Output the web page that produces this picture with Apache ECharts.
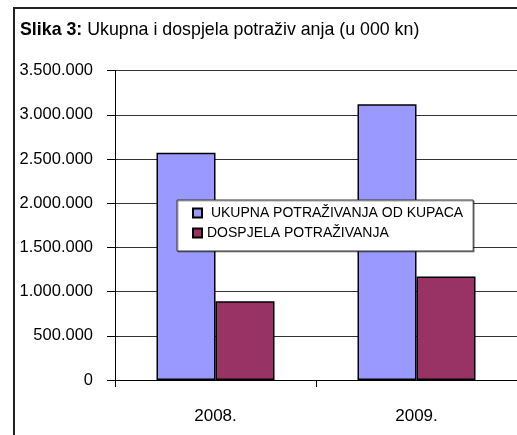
<!DOCTYPE html>
<html>
<head>
<meta charset="utf-8">
<script src="https://cdn.jsdelivr.net/npm/echarts@6/dist/echarts.min.js"></script>
<style>
  html, body { margin: 0; padding: 0; background: #fff; }
  #chart { width: 517px; height: 435px; }
</style>
</head>
<body>
<div id="chart"></div>
<script>
  // podaci (u 000 kn)
  var years = ['2008.', '2009.'];
  var ukupna = [2570000, 3120000];
  var dospjela = [890000, 1170000];
  var yTicks = [0, 500000, 1000000, 1500000, 2000000, 2500000, 3000000, 3500000];

  var seriesNames = ['UKUPNA POTRAŽIVANJA OD KUPACA', 'DOSPJELA POTRAŽIVANJA'];

  function fmt(v) {
    return String(v).replace(/\B(?=(\d{3})+(?!\d))/g, '.');
  }

  var font = 'Liberation Sans, Arial, sans-serif';

  var chart = echarts.init(document.getElementById('chart'));
  chart.setOption({
    animation: false,
    backgroundColor: '#fff',
    graphic: [
      {
        type: 'rect',
        shape: { x: 14, y: 8, width: 600, height: 500 },
        style: { fill: 'none', stroke: '#222', lineWidth: 2 },
        z: 100
      },
      {
        type: 'text',
        left: 20,
        top: 21,
        style: {
          text: '{b|Slika 3:} Ukupna i dospjela potraživ anja (u 000 kn)',
          font: '17.8px ' + font,
          fill: '#000',
          rich: { b: { fontWeight: 'bold', fontSize: 17.8, fontFamily: font } }
        }
      }
    ],
    legend: {
      orient: 'vertical',
      left: 177,
      top: 200,
      padding: [6, 10, 11, 15],
      itemGap: 6,
      itemWidth: 9,
      itemHeight: 9,
      backgroundColor: '#fff',
      borderColor: '#333',
      borderWidth: 1,
      shadowColor: 'rgba(0,0,0,0.35)',
      shadowOffsetX: 1,
      shadowOffsetY: 1,
      icon: 'rect',
      textStyle: { fontFamily: font, fontSize: 14, color: '#000' },
      formatter: function (name) {
        return name === seriesNames[0] ? ' ' + name : name;
      },
      data: seriesNames
    },
    grid: { left: 115, top: 70.6, right: -7, bottom: 55 },
    xAxis: {
      type: 'category',
      data: years,
      axisLine: { lineStyle: { color: '#000', width: 1 } },
      axisTick: { show: true, length: 7, lineStyle: { color: '#000' } },
      axisLabel: { fontFamily: font, fontSize: 17, color: '#000', margin: 28 }
    },
    yAxis: {
      type: 'value',
      min: 0,
      max: yTicks[yTicks.length - 1],
      interval: yTicks[1] - yTicks[0],
      axisLine: { show: true, lineStyle: { color: '#000', width: 1 } },
      axisTick: { show: true, length: 8, lineStyle: { color: '#000' } },
      axisLabel: {
        fontFamily: font, fontSize: 16.5, color: '#000', margin: 22,
        padding: [0, 0, 5, 0],
        formatter: fmt
      },
      splitLine: { lineStyle: { color: '#333', width: 1 } }
    },
    series: [
      {
        name: seriesNames[0],
        type: 'bar',
        data: ukupna,
        barWidth: 59,
        barGap: '0%',
        itemStyle: { color: '#9999FF', borderColor: '#000', borderWidth: 1.5 }
      },
      {
        name: seriesNames[1],
        type: 'bar',
        data: dospjela,
        barWidth: 59,
        barGap: '0%',
        itemStyle: { color: '#993366', borderColor: '#000', borderWidth: 1.5 }
      }
    ]
  });
</script>
</body>
</html>
